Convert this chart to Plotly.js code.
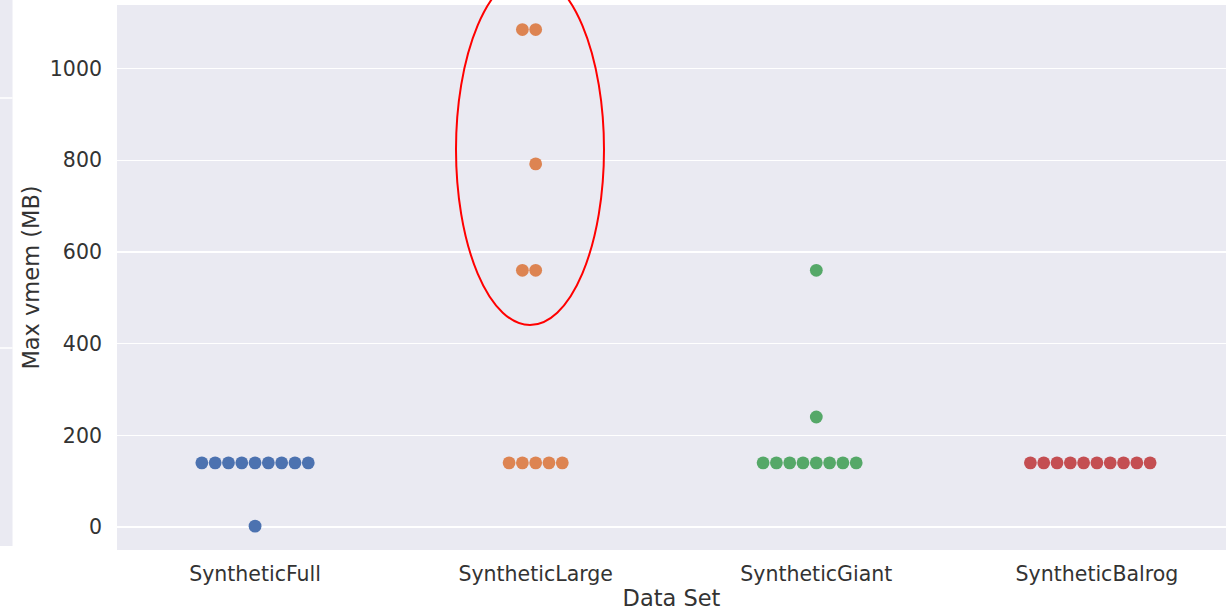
<!DOCTYPE html>
<html>
<head>
<meta charset="utf-8">
<script src="https://cdn.plot.ly/plotly-3.0.1.min.js"></script>
<style>
  html, body { margin: 0; padding: 0; background: #ffffff; }
  #chart { width: 1226px; height: 611px; }
</style>
</head>
<body>
<div id="chart"></div>
<script>
// Peak virtual memory (MB) per run, grouped by data set
const categories = ["SyntheticFull", "SyntheticLarge", "SyntheticGiant", "SyntheticBalrog"];
const fullVmem   = [140, 140, 140, 140, 140, 140, 140, 140, 140, 2];
const largeVmem  = [1085, 1085, 792, 560, 560, 140, 140, 140, 140, 140];
const giantVmem  = [560, 240, 140, 140, 140, 140, 140, 140, 140, 140];
const balrogVmem = [140, 140, 140, 140, 140, 140, 140, 140, 140, 140];
const seriesValues = [fullVmem, largeVmem, giantVmem, balrogVmem];
const colors = ["#4c72b0", "#dd8452", "#55a868", "#c44e52"];

// Figure geometry
const W = 1226, H = 611;
const margin = { l: 117, r: 0, t: 5, b: 61 };
const xRange = [-0.492, 3.46];
const yRange = [-50, 1138.5];
const plotW = W - margin.l - margin.r;
const plotH = H - margin.t - margin.b;
const pxPerX = plotW / (xRange[1] - xRange[0]);
const pxPerY = plotH / (yRange[1] - yRange[0]);
const dotGap = 13.3;   // centre-to-centre spacing of touching dots, px
const dotSize = 12.8;

// Simple beeswarm: each point goes to the nearest free slot, alternating left/right
function swarm(values, catIndex) {
  const placed = [];
  const xs = [];
  values.forEach(v => {
    const py = v * pxPerY;
    let chosen = 0;
    for (let k = 0; k < 200; k++) {
      const step = Math.ceil(k / 2) * (k % 2 === 1 ? -1 : 1);
      const px = step * dotGap;
      const clash = placed.some(p => {
        const dx = p.px - px, dy = p.py - py;
        return Math.sqrt(dx * dx + dy * dy) < dotGap - 0.01;
      });
      if (!clash) { chosen = px; break; }
    }
    placed.push({ px: chosen, py: py });
    xs.push(catIndex + chosen / pxPerX);
  });
  return xs;
}

const traces = seriesValues.map((vals, i) => ({
  type: "scatter",
  mode: "markers",
  name: categories[i],
  x: swarm(vals, i),
  y: vals,
  marker: { color: colors[i], size: dotSize, line: { width: 0 } },
  hovertemplate: categories[i] + ": %{y} MB<extra></extra>",
  showlegend: false
}));

const txt = "#333333";
const font = "DejaVu Sans, sans-serif";

// Pixel position -> paper coordinates
const px2paperX = px => (px - margin.l) / plotW;
const px2paperY = py => (H - margin.b - py) / plotH;

const layout = {
  width: W,
  height: H,
  margin: margin,
  paper_bgcolor: "#ffffff",
  plot_bgcolor: "#eaeaf2",
  font: { family: font, size: 20.5, color: txt },
  showlegend: false,
  xaxis: {
    type: "linear",
    range: xRange,
    tickmode: "array",
    tickvals: categories.map((c, i) => i),
    ticktext: categories,
    showgrid: false,
    zeroline: false,
    showline: false,
    ticks: "",
    ticklabelstandoff: 9,
    tickfont: { family: font, size: 20.5, color: txt },
    title: { text: "Data Set", font: { family: font, size: 22.5, color: txt }, standoff: 6 }
  },
  yaxis: {
    range: yRange,
    tickvals: [0, 200, 400, 600, 800, 1000],
    showgrid: true,
    gridcolor: "#ffffff",
    gridwidth: 1.3,
    zeroline: false,
    showline: false,
    ticks: "",
    ticklabelstandoff: 14,
    tickfont: { family: font, size: 20.5, color: txt },
    title: { text: "Max vmem (MB)", font: { family: font, size: 22.5, color: txt }, standoff: 3 }
  },
  shapes: [
    // Strip of a neighbouring panel at the far left edge
    {
      type: "rect", xref: "paper", yref: "paper", layer: "below",
      x0: px2paperX(0), x1: px2paperX(12.5), y0: px2paperY(546), y1: px2paperY(0),
      fillcolor: "#eaeaf2", line: { width: 0 }
    },
    {
      type: "line", xref: "paper", yref: "paper",
      x0: px2paperX(0), x1: px2paperX(12.5), y0: px2paperY(98), y1: px2paperY(98),
      line: { color: "#ffffff", width: 1.5 }
    },
    {
      type: "line", xref: "paper", yref: "paper",
      x0: px2paperX(0), x1: px2paperX(12.5), y0: px2paperY(348), y1: px2paperY(348),
      line: { color: "#ffffff", width: 1.5 }
    },
    // Highlight around the SyntheticLarge outliers
    {
      type: "circle", xref: "paper", yref: "paper", layer: "above",
      x0: px2paperX(456), x1: px2paperX(604), y0: px2paperY(325), y1: px2paperY(-26),
      line: { color: "#ff0000", width: 2 }
    }
  ]
};

Plotly.newPlot("chart", traces, layout, { displayModeBar: false, staticPlot: true });
</script>
</body>
</html>
